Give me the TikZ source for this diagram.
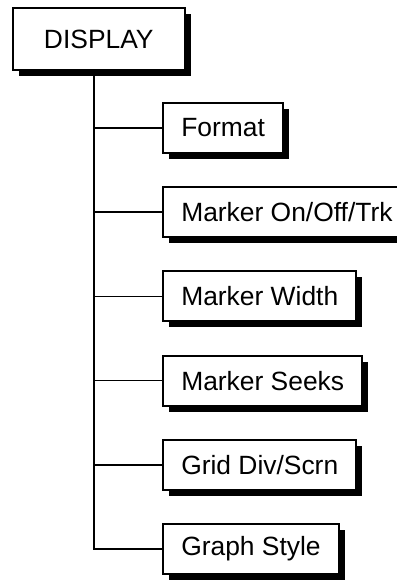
\documentclass[tikz,border=0pt]{standalone}
\usepackage{fontspec}
\setmainfont{Liberation Sans}
\usetikzlibrary{shadows,trees}

\tikzstyle{menu} = [draw, line width=1pt, fill=white, anchor=west, inner xsep=9pt, minimum height=25pt, drop shadow={shadow xshift=3pt, shadow yshift=-3pt, fill=black, opacity=1}]
\tikzstyle{top} = [menu, inner xsep=15.5pt, minimum height=31pt]

\begin{document}
\begin{tikzpicture}[x=0.5pt, y=0.5pt, font=\fontsize{13.2}{16}\selectfont, line width=0.85pt,
    grow via three points={one child at (63.5,-89) and two children at (63.5,-89) and (63.5,-173.2)},
    edge from parent path={([xshift=-2.25pt]\tikzparentnode.south) |- (\tikzchildnode.west)}]
\useasboundingbox (0,0) rectangle (397,-580);
\node[top] (display) at (12,-39) {DISPLAY}
    child { node[menu] (format) {Format} }
    child { node[menu] (marker) {Marker On/Off/Trk} }
    child { node[menu] (width) {Marker Width} }
    child { node[menu] (seeks) {Marker Seeks} }
    child { node[menu] (grid) {Grid Div/Scrn} }
    child { node[menu] (graph) {Graph Style} };
\end{tikzpicture}
\end{document}
